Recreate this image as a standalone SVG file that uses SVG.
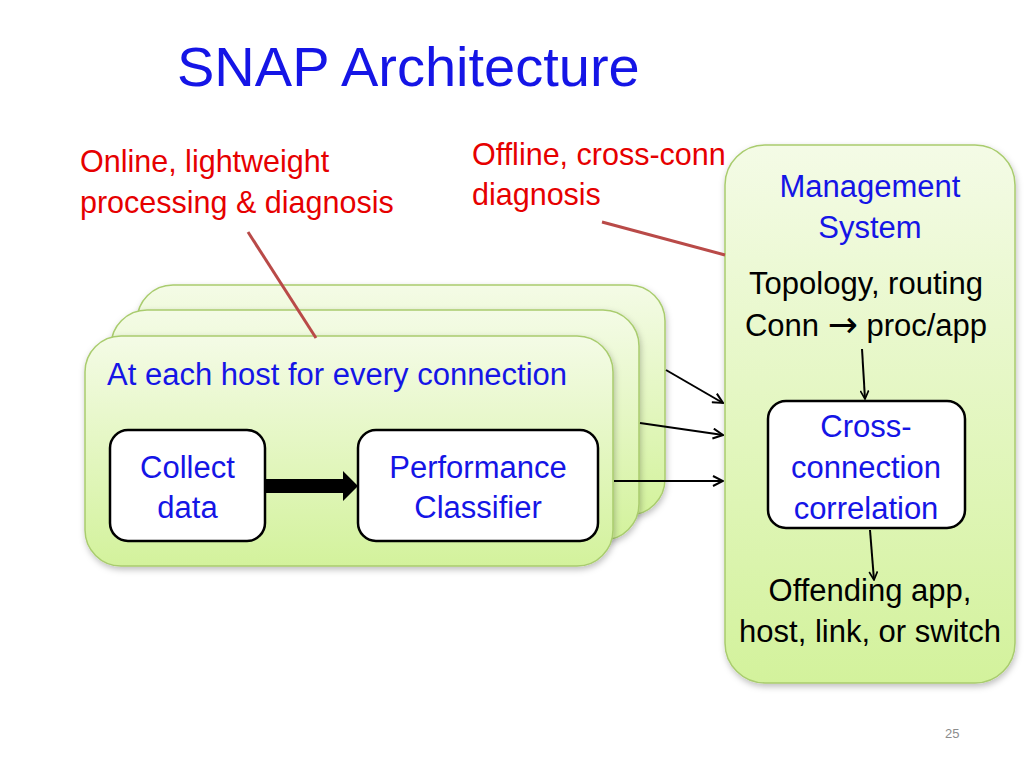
<svg xmlns="http://www.w3.org/2000/svg" width="1024" height="768" viewBox="0 0 1024 768">
<defs>
<linearGradient id="g" x1="0" y1="0" x2="0" y2="1">
<stop offset="0" stop-color="#f4fbe6"/>
<stop offset="1" stop-color="#d3f29c"/>
</linearGradient>
<filter id="sh" x="-10%" y="-10%" width="120%" height="125%">
<feDropShadow dx="1" dy="3" stdDeviation="3" flood-color="#000" flood-opacity="0.25"/>
</filter>
<marker id="ah" viewBox="0 0 12 12" refX="11" refY="6" markerWidth="12" markerHeight="12" markerUnits="userSpaceOnUse" orient="auto">
<path d="M1,1 L11,6 L1,11" fill="none" stroke="#000" stroke-width="2"/>
</marker>
<marker id="ah2" viewBox="0 0 12 12" refX="11" refY="6" markerWidth="10" markerHeight="10" markerUnits="userSpaceOnUse" orient="auto">
<path d="M1,1 L11,6 L1,11" fill="none" stroke="#000" stroke-width="2"/>
</marker>
</defs>
<style>
.b{fill:url(#g);stroke:#a9cc6e;stroke-width:1.5;filter:url(#sh)}
.w{fill:#fff;stroke:#000;stroke-width:2.5}
text{font-family:"Liberation Sans",Arial,sans-serif}
.blue{fill:#1515e6}
.red{fill:#e60000;font-size:30.5px}
.blk{fill:#000}
.m{font-size:31px;text-anchor:middle}
.c{stroke:#000;stroke-width:2;fill:none}
.r{stroke:#b94a48;stroke-width:3;fill:none}
</style>
<rect width="1024" height="768" fill="#fff"/>
<text x="177" y="86" class="blue" font-size="56">SNAP Architecture</text>

<g id="online-label">
<text x="80" y="172" class="red">Online, lightweight</text>
<text x="80" y="213" class="red">processing &amp; diagnosis</text>
</g>
<g id="offline-label">
<text x="472" y="165" class="red">Offline, cross-conn</text>
<text x="472" y="205" class="red">diagnosis</text>
</g>

<g id="host-back"><rect x="137" y="285" width="528" height="230" rx="36" class="b"/></g>
<g id="host-mid"><rect x="111" y="310" width="528" height="230" rx="36" class="b"/></g>
<g id="host-front">
<rect x="85" y="336" width="528" height="230" rx="36" class="b"/>
<text x="107" y="385" class="blue" font-size="31">At each host for every connection</text>
</g>
<g id="collect">
<rect x="110" y="430" width="155" height="111" rx="18" class="w"/>
<text x="187.5" y="478" class="blue m">Collect</text>
<text x="187.5" y="518" class="blue m">data</text>
</g>
<g id="classifier">
<rect x="358" y="430" width="240" height="111" rx="18" class="w"/>
<text x="478" y="478" class="blue m">Performance</text>
<text x="478" y="518" class="blue m">Classifier</text>
</g>

<g id="mgmt">
<rect x="725" y="145" width="290" height="538" rx="40" class="b"/>
<text x="870" y="197" class="blue m">Management</text>
<text x="870" y="238" class="blue m">System</text>
<text x="866" y="294" class="blk m">Topology, routing</text>
<text x="866" y="336" class="blk m">Conn <tspan font-family="DejaVu Sans" font-size="36" dy="1">→</tspan><tspan dy="-1"> proc/app</tspan></text>
<text x="870" y="601" class="blk m">Offending app,</text>
<text x="870" y="642" class="blk m">host, link, or switch</text>
</g>
<g id="correlation">
<rect x="768" y="401" width="197" height="127" rx="18" class="w"/>
<text x="866" y="437" class="blue m">Cross-</text>
<text x="866" y="478" class="blue m">connection</text>
<text x="866" y="519" class="blue m">correlation</text>
</g>

<g id="connectors">
<path d="M265,486 H343 V471 L358,486 L343,501 V486 Z" fill="#000"/>
<rect x="265" y="479" width="80" height="14" fill="#000"/>
<path d="M666,370 L723,403" class="c" marker-end="url(#ah)"/>
<path d="M640,423 L723,435" class="c" marker-end="url(#ah)"/>
<path d="M614,481 L723,481" class="c" marker-end="url(#ah)"/>
<path d="M862,349 L865,399" class="c" marker-end="url(#ah2)"/>
<path d="M870,530 L874,580" class="c" marker-end="url(#ah2)"/>
<path d="M248,232 L316,338" class="r"/>
<path d="M602,222 L725,255" class="r"/>
</g>
<text x="945" y="738" font-size="13" fill="#8c8c8c">25</text>
</svg>
